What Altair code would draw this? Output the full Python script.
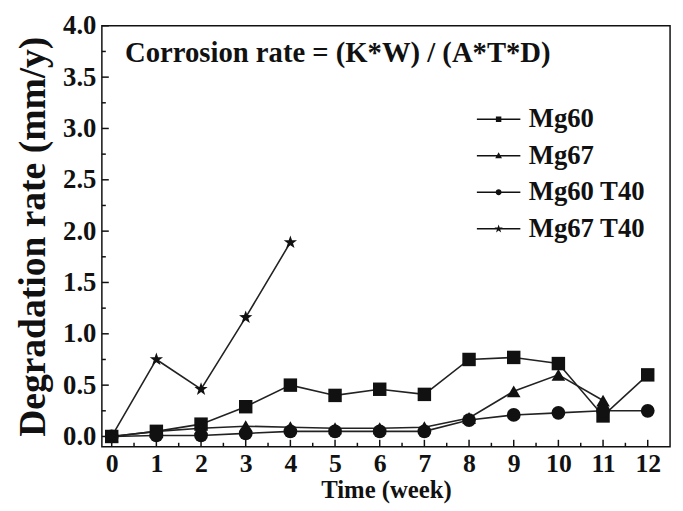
import altair as alt
import pandas as pd

weeks = list(range(13))
series_names = ["Mg60", "Mg67", "Mg60 T40", "Mg67 T40"]
mg60 = [0.0, 0.05, 0.12, 0.29, 0.50, 0.40, 0.46, 0.41, 0.75, 0.77, 0.71, 0.20, 0.60]
mg67 = [0.0, 0.05, 0.08, 0.10, 0.09, 0.08, 0.08, 0.09, 0.18, 0.44, 0.60, 0.35]
mg60_t40 = [0.0, 0.01, 0.01, 0.03, 0.05, 0.05, 0.05, 0.05, 0.16, 0.21, 0.23, 0.25, 0.25]
mg67_t40 = [0.0, 0.75, 0.46, 1.16, 1.89]

y_major = [0.0, 0.5, 1.0, 1.5, 2.0, 2.5, 3.0, 3.5, 4.0]
y_minor = [0.25, 0.75, 1.25, 1.75, 2.25, 2.75, 3.25, 3.75]
x_major = list(range(13))
x_minor = [0.5 + i for i in range(12)]

annotation = "Corrosion rate = (K*W) / (A*T*D)"

rows = []
for name, vals in zip(series_names, [mg60, mg67, mg60_t40, mg67_t40]):
    for w, v in zip(weeks, vals):
        rows.append({"series": name, "week": w, "rate": v})
df = pd.DataFrame(rows)

W, H = 575, 426
FONT = "Liberation Serif"
xs = alt.Scale(domain=[-0.22, 12.5], nice=False, zero=False)
ys = alt.Scale(domain=[-0.1, 4.0], nice=False, zero=False)

STAR_PTS = [(0, -1), (0.235, -0.324), (0.951, -0.309), (0.38, 0.124), (0.588, 0.809),
            (0, 0.4), (-0.588, 0.809), (-0.38, 0.124), (-0.951, -0.309), (-0.235, -0.324)]


def star_path(s):
    return "M" + "L".join(f"{x*s:.3f},{y*s:.3f}" for x, y in STAR_PTS) + "Z"


STAR = star_path(1.0)

BAR = "M-2,-0.07H2V0.07H-2Z"
leg_shapes = [
    BAR + "M-0.25,-0.25H0.25V0.25H-0.25Z",
    BAR + "M0,-0.33L0.31,0.23L-0.31,0.23Z",
    BAR + "M0.27,0A0.27,0.27,0,1,1,-0.27,0A0.27,0.27,0,1,1,0.27,0Z",
    BAR + star_path(0.4),
]

x_enc = alt.X("week:Q", scale=xs, axis=alt.Axis(values=x_major, title="Time (week)", format="d",
                                                  ticks=False, domain=False, grid=False,
                                                  labelPadding=4, titlePadding=1,
                                                  labelFontSize=26, titleFontSize=25))
y_enc = alt.Y("rate:Q", scale=ys, axis=alt.Axis(values=y_major, title="Degradation rate (mm/y)",
                                                  format=".1f", ticks=False, domain=False, grid=False,
                                                  labelPadding=6, titlePadding=10,
                                                  labelFontSize=27, titleFontSize=38))

lines = alt.Chart(df).mark_line(color="#222", strokeWidth=1.6).encode(
    x=x_enc, y=y_enc, detail="series:N")

points = alt.Chart(df).mark_point(filled=True, color="#111", opacity=1).encode(
    x=alt.X("week:Q", scale=xs),
    y=alt.Y("rate:Q", scale=ys),
    shape=alt.Shape("series:N", scale=alt.Scale(domain=series_names,
                    range=["square", "triangle-up", "circle", STAR]), legend=None),
    size=alt.Size("series:N", scale=alt.Scale(domain=series_names, range=[185, 200, 180, 290]),
                  legend=None),
)

legend_layer = alt.Chart(df).mark_point(filled=True, color="#111", opacity=0).encode(
    x=alt.X("week:Q", scale=xs),
    y=alt.Y("rate:Q", scale=ys),
    shape=alt.Shape("series:N", scale=alt.Scale(domain=series_names, range=leg_shapes),
                    legend=alt.Legend(title=None, orient="none", legendX=388, legendY=81,
                                      symbolSize=484, symbolOpacity=1, symbolFillColor="#111",
                                      labelFont=FONT, labelFontSize=27, labelFontWeight="bold",
                                      labelColor="#111", rowPadding=9, labelOffset=17)),
)

tick_ymaj = alt.Chart(pd.DataFrame({"v": y_major})).mark_rule(color="#111", strokeWidth=1.5).encode(
    y=alt.Y("v:Q", scale=ys), x=alt.value(0), x2=alt.value(7))
tick_ymin = alt.Chart(pd.DataFrame({"v": y_minor})).mark_rule(color="#111", strokeWidth=1.5).encode(
    y=alt.Y("v:Q", scale=ys), x=alt.value(0), x2=alt.value(4))
tick_xmaj = alt.Chart(pd.DataFrame({"v": x_major})).mark_rule(color="#111", strokeWidth=1.5).encode(
    x=alt.X("v:Q", scale=xs), y=alt.value(H), y2=alt.value(H - 7))
tick_xmin = alt.Chart(pd.DataFrame({"v": x_minor})).mark_rule(color="#111", strokeWidth=1.5).encode(
    x=alt.X("v:Q", scale=xs), y=alt.value(H), y2=alt.value(H - 4))

text = alt.Chart(pd.DataFrame({"x": [0.3], "y": [3.73], "t": [annotation]})).mark_text(
    align="left", baseline="middle", font=FONT, fontSize=29, fontWeight="bold", color="#111"
).encode(x=alt.X("x:Q", scale=xs), y=alt.Y("y:Q", scale=ys), text="t:N")

chart = alt.layer(lines, points, legend_layer, tick_ymaj, tick_ymin, tick_xmaj, tick_xmin, text).resolve_scale(
    shape="independent", size="independent"
).properties(
    width=W, height=H,
    background="white",
    autosize=alt.AutoSizeParams(type="none"),
    padding={"left": 95, "top": 15, "right": 5, "bottom": 60},
).configure_view(stroke="#111", strokeWidth=1.5).configure_axis(
    labelFont=FONT, labelFontWeight="bold", labelColor="#111",
    titleFont=FONT, titleFontWeight="bold", titleColor="#111",
)

chart.save("out.html", embed_options={"renderer": "svg", "actions": False})
